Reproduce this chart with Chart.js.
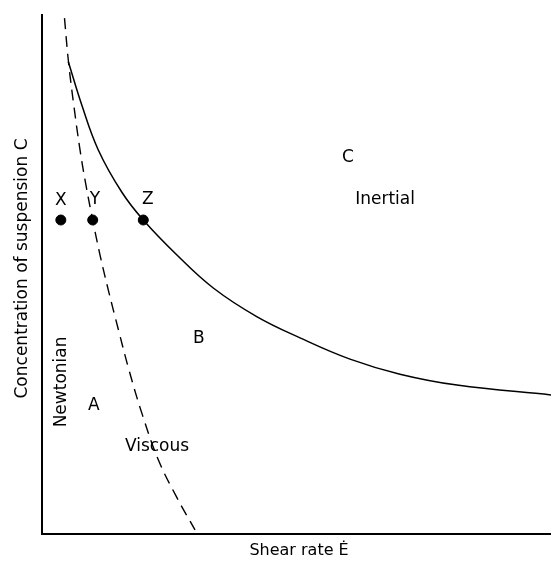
<!DOCTYPE html>
<html>
<head>
<meta charset="utf-8">
<script src="https://cdn.jsdelivr.net/npm/chart.js@4"></script>
<style>
	html, body { margin: 0; padding: 0; background: #fff; }
	#wrap { width: 551px; height: 562px; }
</style>
</head>
<body>
<div id="wrap"><canvas id="regimes"></canvas></div>
<script>
// shear rate (x) and concentration (y), both on a 0-100 scale without ticks
const viscous_x = [4.42, 5.21, 6.29, 7.47, 8.64, 9.96, 11.39, 13.03, 15.03, 17.09, 19.74, 22.85, 26.46, 30.06];
const viscous_y = [99.4, 90.9, 82.3, 74.0, 67.2, 60.5, 53.8, 47.0, 39.3, 31.6, 22.9, 14.3, 7.1, 0.8];

const inertial_x = [5.17, 7.80, 11.06, 15.66, 19.90, 26.46, 33.65, 42.18, 50.69, 60.51, 70.33, 81.53, 100];
const inertial_y = [91.0, 82.7, 74.0, 65.9, 60.5, 53.8, 47.4, 41.9, 37.8, 33.7, 30.8, 28.7, 26.8];

const point_names = ['X', 'Y', 'Z'];
const point_x = [3.7, 9.96, 19.9];
const point_y = [60.5, 60.5, 60.5];

// region labels
const label_text = ['X', 'Y', 'Z', 'C', 'Inertial', 'B', 'A', 'Viscous', 'Newtonian'];
const label_x = [3.7, 10.4, 20.8, 60.1, 67.4, 30.8, 10.2, 22.6, 3.9];
const label_y = [64.2, 64.4, 64.4, 72.6, 64.5, 37.6, 24.8, 16.8, 29.3];
const label_rot = [0, 0, 0, 0, 0, 0, 0, 0, -90];

const x_title = 'Shear rate Ė';
const y_title = 'Concentration of suspension C';

function to_points(xs, ys) {
	let pts = [];
	for (let i = 0; i < xs.length; i++) {
		pts.push({ x: xs[i], y: ys[i] });
	}
	return pts;
}

// draws region names and axis titles
const textLayer = {
	id: 'textLayer',
	afterDraw(chart) {
		const ctx = chart.ctx;
		const xs = chart.scales.x;
		const ys = chart.scales.y;
		const area = chart.chartArea;
		ctx.save();
		ctx.fillStyle = '#000';
		ctx.font = '17px "DejaVu Sans"';
		ctx.textAlign = 'center';
		ctx.textBaseline = 'middle';
		for (let i = 0; i < label_text.length; i++) {
			ctx.save();
			ctx.translate(xs.getPixelForValue(label_x[i]), ys.getPixelForValue(label_y[i]));
			ctx.rotate(label_rot[i] * Math.PI / 180);
			ctx.fillText(label_text[i], 0, 0);
			ctx.restore();
		}
		// axis titles
		ctx.font = '16px "DejaVu Sans"';
		ctx.fillText(x_title, area.left + (area.right - area.left) * 0.505, area.bottom + 17);
		ctx.font = '17px "DejaVu Sans"';
		ctx.save();
		ctx.translate(area.left - 19, (area.top + area.bottom) / 2 - 6);
		ctx.rotate(-Math.PI / 2);
		ctx.fillText(y_title, 0, 0);
		ctx.restore();
		ctx.restore();
	}
};

const config = {
	type: 'line',
	data: {
		datasets: [
			{
				label: 'Viscous boundary',
				data: to_points(viscous_x, viscous_y),
				borderColor: '#000',
				borderWidth: 1.4,
				borderDash: [11, 7],
				pointRadius: 0,
				tension: 0.4,
				fill: false,
				clip: false,
			},
			{
				label: 'Inertial boundary',
				data: to_points(inertial_x, inertial_y),
				borderColor: '#000',
				borderWidth: 1.5,
				pointRadius: 0,
				tension: 0.4,
				fill: false,
				clip: false,
			},
			{
				label: 'States',
				data: to_points(point_x, point_y),
				showLine: false,
				pointRadius: 5,
				pointBackgroundColor: '#000',
				pointBorderColor: '#000',
				clip: false,
			},
		],
	},
	options: {
		responsive: true,
		maintainAspectRatio: false,
		animation: false,
		layout: {
			autoPadding: false,
			padding: { top: 15, right: 0, left: 0, bottom: 0 },
		},
		plugins: {
			legend: { display: false },
			tooltip: { enabled: false },
		},
		scales: {
			x: {
				type: 'linear',
				min: 0,
				max: 100,
				ticks: { display: false },
				grid: { display: false },
				border: { display: true, color: '#000', width: 2 },
				afterFit: (scale) => { scale.height = 28; },
			},
			y: {
				type: 'linear',
				min: 0,
				max: 100,
				ticks: { display: false },
				grid: { display: false },
				border: { display: true, color: '#000', width: 2 },
				afterFit: (scale) => { scale.width = 42; },
			},
		},
	},
	plugins: [textLayer],
};

const myChart = new Chart(document.getElementById('regimes'), config);
</script>
</body>
</html>
